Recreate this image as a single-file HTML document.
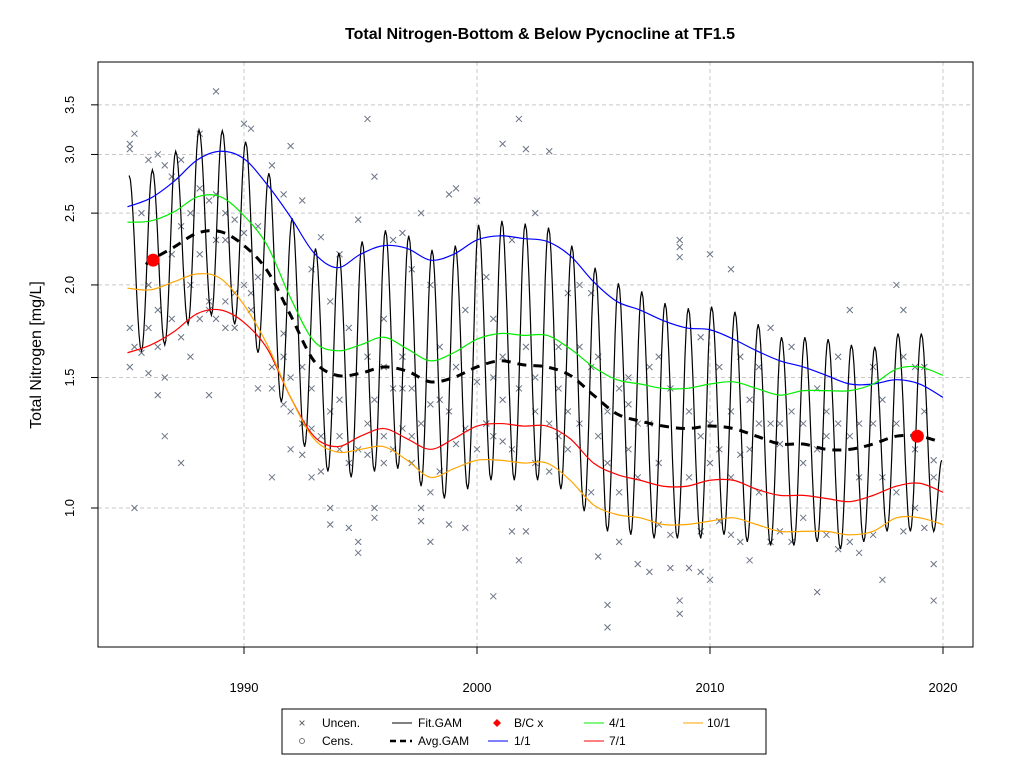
<!DOCTYPE html>
<html><head><meta charset="utf-8"><style>
html,body{margin:0;padding:0;background:#fff;}
svg{display:block;font-family:"Liberation Sans",Arial,sans-serif;}
</style></head><body>
<svg id="chart" width="1024" height="768" viewBox="0 0 1024 768" xmlns="http://www.w3.org/2000/svg">
<rect width="1024" height="768" fill="#fff"/>
<text x="540" y="39" text-anchor="middle" font-size="16" font-weight="bold">Total Nitrogen-Bottom &amp; Below Pycnocline at TF1.5</text>
<text transform="translate(41,355) rotate(-90)" text-anchor="middle" font-size="16">Total Nitrogen [mg/L]</text>
<g id="grid"></g>
<g id="axes"></g>
<g id="points"></g>
<g id="lines"></g>
<rect x="98" y="62" width="875" height="585" fill="none" stroke="#000" stroke-width="1"/>
<g id="legend">
<rect x="282" y="709" width="484" height="45" fill="#fff" stroke="#000"/>
<g><text x="302" y="727" text-anchor="middle" font-size="12" fill="#555">×</text><text x="322" y="727" font-size="12">Uncen.</text></g>
<g><circle cx="302" cy="741" r="2.5" fill="none" stroke="#777"/><text x="322" y="745" font-size="12">Cens.</text></g>
<g><line x1="392" y1="723" x2="412" y2="723" stroke="#000"/><text x="418" y="727" font-size="12">Fit.GAM</text></g>
<g><line x1="390" y1="741" x2="412" y2="741" stroke="#000" stroke-width="2.5" stroke-dasharray="6 4"/><text x="418" y="745" font-size="12">Avg.GAM</text></g>
<g><polygon points="497,719 501,723 497,727 493,723" fill="red"/><text x="514" y="727" font-size="12">B/C x</text></g>
<g><line x1="488" y1="741" x2="508" y2="741" stroke="blue"/><text x="514" y="745" font-size="12">1/1</text></g>
<g><line x1="584" y1="723" x2="604" y2="723" stroke="#00ee00"/><text x="609" y="727" font-size="12">4/1</text></g>
<g><line x1="584" y1="741" x2="604" y2="741" stroke="red"/><text x="609" y="745" font-size="12">7/1</text></g>
<g><line x1="683" y1="723" x2="703" y2="723" stroke="orange"/><text x="707" y="727" font-size="12">10/1</text></g>
</g>
</svg>
<script>
const lineYears = [1985,1986,1987,1988,1989,1990,1991,1992,1993,1994,1995,1996,1997,1998,1999,2000,2001,2002,2003,2004,2005,2006,2007,2008,2009,2010,2011,2012,2013,2014,2015,2016,2017,2018,2019,2020];
const blueValues = [2.55,2.62,2.76,2.95,3.03,2.96,2.73,2.47,2.21,2.11,2.20,2.26,2.24,2.16,2.20,2.30,2.33,2.31,2.29,2.19,2.02,1.90,1.85,1.79,1.75,1.74,1.69,1.63,1.58,1.55,1.51,1.47,1.47,1.49,1.47,1.41];
const greenValues = [2.43,2.44,2.51,2.63,2.63,2.48,2.26,1.92,1.68,1.63,1.66,1.70,1.64,1.58,1.62,1.69,1.72,1.71,1.71,1.64,1.55,1.49,1.47,1.45,1.45,1.47,1.48,1.45,1.42,1.44,1.44,1.44,1.47,1.54,1.55,1.51];
const redValues = [1.62,1.66,1.73,1.83,1.85,1.78,1.64,1.41,1.25,1.21,1.25,1.28,1.24,1.20,1.24,1.29,1.30,1.29,1.29,1.24,1.15,1.11,1.09,1.07,1.07,1.09,1.09,1.06,1.04,1.04,1.03,1.02,1.04,1.07,1.08,1.05];
const orangeValues = [1.98,1.97,2.02,2.07,2.04,1.88,1.66,1.41,1.24,1.19,1.20,1.21,1.16,1.10,1.13,1.16,1.16,1.15,1.15,1.09,1.01,0.98,0.97,0.95,0.95,0.96,0.97,0.95,0.93,0.93,0.93,0.92,0.93,0.97,0.97,0.95];
const avgYears = [1985.8,1986,1987,1988,1989,1990,1991,1992,1993,1994,1995,1996,1997,1998,1999,2000,2001,2002,2003,2004,2005,2006,2007,2008,2009,2010,2011,2012,2013,2014,2015,2016,2017,2018,2019,2019.8];
const avgValues = [2.13,2.16,2.25,2.35,2.36,2.26,2.09,1.82,1.58,1.51,1.52,1.55,1.53,1.48,1.50,1.55,1.58,1.56,1.55,1.51,1.42,1.34,1.31,1.29,1.28,1.29,1.28,1.25,1.22,1.22,1.20,1.20,1.22,1.25,1.25,1.23];
const fitYears = [1985,1986,1987,1988,1989,1990,1991,1992,1993,1994,1995,1996,1997,1998,1999,2000,2001,2002,2003,2004,2005,2006,2007,2008,2009,2010,2011,2012,2013,2014,2015,2016,2017,2018,2019];
const fitPeaks = [2.81,2.86,3.03,3.24,3.23,3.12,2.83,2.46,2.24,2.21,2.29,2.37,2.33,2.23,2.26,2.41,2.44,2.42,2.39,2.26,2.11,2.01,1.96,1.89,1.86,1.87,1.84,1.77,1.70,1.70,1.69,1.66,1.65,1.72,1.72];
const fitTroughs = [1.63,1.66,1.77,1.82,1.77,1.62,1.39,1.21,1.12,1.10,1.12,1.13,1.07,1.03,1.06,1.09,1.09,1.09,1.06,0.99,0.93,0.92,0.91,0.91,0.91,0.92,0.90,0.89,0.89,0.90,0.88,0.90,0.93,0.93,0.93];
const fitEnd = [2019.95, 1.16];
const bcYears = [1986.1, 2018.9];
const bcValues = [2.16, 1.25];
const yTicks = [1.0,1.5,2.0,2.5,3.0,3.5];
const yTickLabels = ["1.0","1.5","2.0","2.5","3.0","3.5"];
const xTicks = [1990,2000,2010,2020];
const scatterGroups = [
[1985.1,[3.05,3.1,1.75,1.55]],[1985.3,[3.2,1.0,1.65]],[1985.6,[1.62,2.5]],[1985.9,[2.95,1.52,1.75,2.0]],
[1986.3,[3.0,1.42,1.65,1.85]],[1986.6,[2.9,1.25,1.5]],[1986.9,[2.8,2.2,1.8]],[1987.3,[2.95,1.15,1.7,2.4]],
[1987.7,[2.5,2.0,1.6]],[1988.1,[3.2,2.2,1.8,2.7]],[1988.5,[2.6,1.42,1.9,1.85]],[1988.8,[3.65,2.65,2.3,1.8]],
[1989.2,[2.5,1.9,2.3,1.75]],[1989.6,[2.45,1.75,1.95]],[1990.0,[3.3,2.35,2.0]],[1990.3,[3.25,1.95,1.85]],
[1990.6,[2.4,1.45,2.05]],[1991.2,[2.9,1.55,1.45,1.1]],[1991.7,[2.65,1.38,1.6,1.72]],[1992.0,[3.08,1.2,1.5,1.35]],
[1992.5,[2.6,1.18,1.55,1.3]],[1992.9,[2.1,1.1,1.45,1.28]],[1993.3,[2.32,1.12,1.25]],[1993.7,[1.9,1.0,0.95,1.35]],
[1994.1,[2.2,1.2,1.4,1.25]],[1994.5,[1.75,0.94,1.15]],[1994.9,[2.45,0.87,0.9,1.2]],[1995.3,[3.35,1.18,1.3,1.6]],
[1995.6,[2.8,0.97,1.4,1.0]],[1996.0,[1.8,1.25,1.55,1.15]],[1996.4,[2.3,1.2,1.45]],[1996.8,[2.35,1.28,1.45,1.6]],
[1997.2,[2.1,1.25,1.15,1.45]],[1997.6,[2.5,1.0,0.96,1.3]],[1998.0,[2.0,1.05,0.9,1.38]],[1998.4,[1.65,1.12,1.4]],
[1998.8,[2.65,0.95,1.35]],[1999.1,[2.7,1.55,1.22]],[1999.5,[1.85,0.94,1.28]],[2000.0,[2.6,1.48,1.2]],
[2000.4,[2.05,1.3,1.3]],[2000.7,[1.8,0.76,1.25,1.5]],[2001.1,[3.1,1.6,1.23,1.4]],[2001.5,[2.3,0.93,1.2]],
[2001.8,[3.35,0.85,1.0,1.45]],[2002.1,[3.05,0.93,1.65]],[2002.5,[2.5,1.35,1.15,1.5]],[2003.1,[3.03,1.12,1.3]],
[2003.5,[1.65,1.25,1.45]],[2003.9,[1.95,1.35,1.2]],[2004.4,[2.0,1.3,1.65]],[2004.9,[1.95,1.05,1.55]],
[2005.2,[0.86,1.25,1.6]],[2005.6,[0.69,0.74,1.15,1.35]],[2006.1,[1.45,1.05,0.9]],[2006.5,[1.38,1.2,1.5]],
[2006.9,[0.84,1.3,1.1]],[2007.4,[1.55,0.82,1.3]],[2007.8,[1.6,1.15,0.95]],[2008.3,[1.45,0.92,0.83]],
[2008.7,[2.3,2.25,2.18,0.75,0.72]],[2009.1,[1.35,0.83,1.1]],[2009.6,[1.7,1.25,0.93,0.82]],[2010.0,[2.2,1.3,0.8,1.15]],
[2010.4,[1.55,0.96,1.2]],[2010.9,[2.1,1.35,0.92,1.1]],[2011.3,[1.6,1.18,0.9]],[2011.7,[1.4,0.85,1.2]],
[2012.1,[1.55,1.05,1.3]],[2012.6,[1.75,0.9,1.3]],[2013.0,[1.3,0.93,1.22]],[2013.5,[1.65,0.9,1.35]],
[2014.0,[1.3,0.97,1.15]],[2014.6,[0.77,1.2,1.45]],[2015.0,[1.35,0.92,1.25]],[2015.5,[1.6,0.88,1.3]],
[2016.0,[1.85,0.9,1.25]],[2016.4,[1.3,0.87,1.1]],[2017.0,[1.55,0.92,1.3]],[2017.4,[0.8,1.4,1.1]],
[2018.0,[2.0,1.3,1.05]],[2018.3,[1.85,1.6,0.93]],[2018.8,[1.55,1.2,1.0]],[2019.2,[1.35,0.94,1.55]],
[2019.6,[0.84,0.75,1.1,1.16]]
];

const NS = "http://www.w3.org/2000/svg";
function X(yr){ return 244 + (yr - 1990) * 23.3; }
function Y(v){ return 508 - Math.log10(v) * 741; }
function mk(tag, attrs, parent){ const e = document.createElementNS(NS, tag); for (const k in attrs) e.setAttribute(k, attrs[k]); parent.appendChild(e); return e; }

const grid = document.getElementById('grid'), axes = document.getElementById('axes');
yTicks.forEach((t, i) => {
  const y = Y(t);
  const gl = mk('line', {x1:98, x2:973, y1:y, y2:y, stroke:'#c8c8c8', 'stroke-dasharray':'4 3'}, grid);
  
  
  const tk = mk('line', {x1:91, x2:98, y1:y, y2:y, stroke:'#000'}, axes);
  
  
  const tl = mk('text', {transform:`translate(74,${y}) rotate(-90)`, 'text-anchor':'middle', 'font-size':'13'}, axes);
  tl.textContent = yTickLabels[i];
  
  
});
xTicks.forEach(t => {
  const x = X(t);
  const gl = mk('line', {x1:x, x2:x, y1:62, y2:647, stroke:'#c8c8c8', 'stroke-dasharray':'4 3'}, grid);
  
  
  const tk = mk('line', {x1:x, x2:x, y1:647, y2:654, stroke:'#000'}, axes);
  
  
  const tl = mk('text', {x:x, y:692, 'text-anchor':'middle', 'font-size':'13'}, axes);
  tl.textContent = String(t);
  
  
});

const pts = document.getElementById('points');
scatterGroups.forEach(g => {
  g[1].forEach(v => {
    const x = X(g[0]), y = Y(v);
    const p = mk('path', {d:`M${x-3},${y-3}L${x+3},${y+3}M${x-3},${y+3}L${x+3},${y-3}`, stroke:'#6b7585', 'stroke-width':'1', fill:'none'}, pts);
    
    
  });
});

function smoothPath(xs, vs){
  const P = xs.map((yr, i) => [X(yr), Y(vs[i])]);
  let d = `M${P[0][0]},${P[0][1]}`;
  for (let i = 0; i < P.length - 1; i++){
    const p0 = P[Math.max(0, i-1)], p1 = P[i], p2 = P[i+1], p3 = P[Math.min(P.length-1, i+2)];
    const c1 = [p1[0] + (p2[0]-p0[0])/6, p1[1] + (p2[1]-p0[1])/6];
    const c2 = [p2[0] - (p3[0]-p1[0])/6, p2[1] - (p3[1]-p1[1])/6];
    d += `C${c1[0]},${c1[1]} ${c2[0]},${c2[1]} ${p2[0]},${p2[1]}`;
  }
  return d;
}
const lines = document.getElementById('lines');

// Fit.GAM: alternating peaks (winter) and troughs (summer)
const ext = [];
fitYears.forEach((yr, i) => { ext.push([yr + 0.07, fitPeaks[i]]); ext.push([yr + 0.6, fitTroughs[i]]); });
ext.push(fitEnd);
let fd = '';
for (let i = 0; i < ext.length - 1; i++){
  const a = ext[i], b = ext[i+1];
  for (let s = 0; s <= 10; s++){
    const f = s / 10, w = (1 - Math.cos(Math.PI * f)) / 2;
    const yr = a[0] + (b[0]-a[0]) * f;
    const lv = Math.log10(a[1]) + (Math.log10(b[1]) - Math.log10(a[1])) * w;
    fd += (fd ? 'L' : 'M') + X(yr).toFixed(1) + ',' + (508 - lv * 741).toFixed(1);
  }
}
const fit = mk('path', {d:fd, fill:'none', stroke:'#000', 'stroke-width':'1.2'}, lines);



const series = [[blueValues,'blue','line-1-1'],[greenValues,'#00ee00','line-4-1'],[redValues,'red','line-7-1'],[orangeValues,'orange','line-10-1']];
series.forEach(s => {
  const p = mk('path', {d:smoothPath(lineYears, s[0]), fill:'none', stroke:s[1], 'stroke-width':'1.2'}, lines);
  
  
});
const avg = mk('path', {d:smoothPath(avgYears, avgValues), fill:'none', stroke:'#000', 'stroke-width':'3', 'stroke-dasharray':'9 7'}, lines);



bcYears.forEach((yr, i) => {
  const c = mk('circle', {cx:X(yr), cy:Y(bcValues[i]), r:6.5, fill:'red'}, lines);
  
  
});
</script>
</body></html>
